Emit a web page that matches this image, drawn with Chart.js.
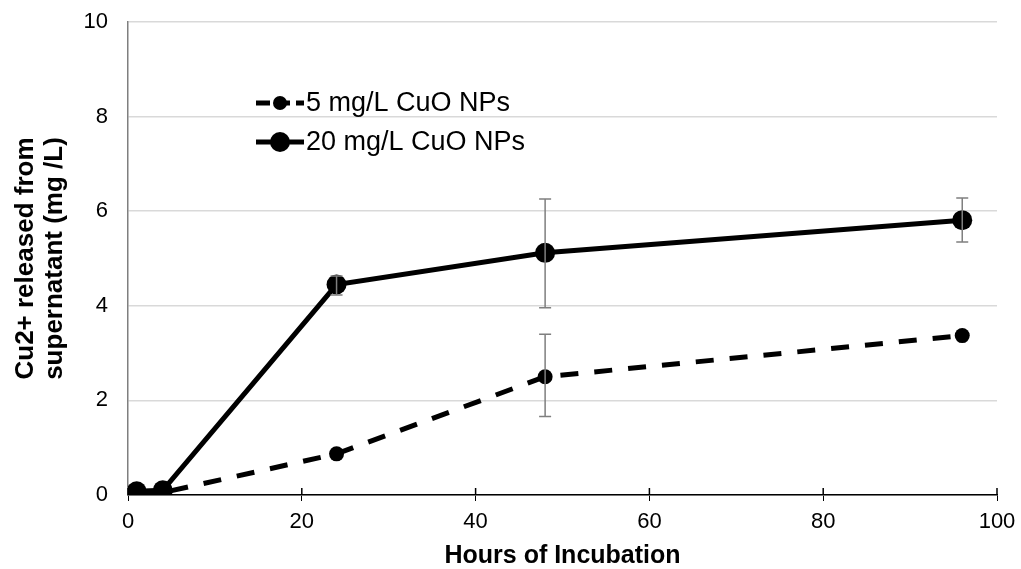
<!DOCTYPE html>
<html>
<head>
<meta charset="utf-8">
<script src="https://cdn.jsdelivr.net/npm/chart.js@4.4.0/dist/chart.umd.min.js"></script>
<style>
  html, body { margin: 0; padding: 0; background: #fff; }
  #wrap { width: 1021px; height: 569px; }
</style>
</head>
<body>
<div id="wrap"><canvas id="c" width="1021" height="569"></canvas></div>
<script>
// Data
const hours = [1, 4, 24, 48, 96];
const low5 = [0.0, 0.05, 0.87, 2.50, 3.37];
const low5ErrHi = [null, null, null, 3.40, null];
const low5ErrLo = [null, null, null, 1.66, null];
const high20 = [0.08, 0.10, 4.45, 5.12, 5.81];
const high20ErrHi = [null, null, 4.63, 6.26, 6.28];
const high20ErrLo = [null, null, 4.23, 3.96, 5.35];
const xTicks = [0, 20, 40, 60, 80, 100];
const seriesNames = ['5 mg/L CuO NPs', '20 mg/L CuO NPs'];

const FONT = '"Liberation Sans", Arial, sans-serif';

// Error bars drawn through the chart scales
const errorBars = {
    id: 'errorBars',
    afterDatasetsDraw(chart) {
        const ctx = chart.ctx;
        const xs = chart.scales.x, ys = chart.scales.y;
        const sets = [[low5ErrHi, low5ErrLo], [high20ErrHi, high20ErrLo]];
        ctx.save();
        ctx.strokeStyle = '#7f7f7f';
        ctx.lineWidth = 1.5;
        sets.forEach(([hi, lo]) => {
            hours.forEach((h, i) => {
                if (hi[i] == null) return;
                const x = xs.getPixelForValue(h);
                const y1 = ys.getPixelForValue(hi[i]);
                const y2 = ys.getPixelForValue(lo[i]);
                ctx.beginPath();
                ctx.moveTo(x, y1); ctx.lineTo(x, y2);
                ctx.moveTo(x - 6, y1); ctx.lineTo(x + 6, y1);
                ctx.moveTo(x - 6, y2); ctx.lineTo(x + 6, y2);
                ctx.stroke();
            });
        });
        ctx.restore();
    }
};

// x tick marks cross the axis line in the original
const crossTicks = {
    id: 'crossTicks',
    afterDraw(chart) {
        const ctx = chart.ctx;
        const xs = chart.scales.x;
        const y0 = chart.chartArea.bottom;
        ctx.save();
        ctx.strokeStyle = '#000';
        ctx.lineWidth = 1.5;
        xTicks.forEach(v => {
            const x = xs.getPixelForValue(v);
            ctx.beginPath();
            ctx.moveTo(x, y0 - 7); ctx.lineTo(x, y0);
            ctx.stroke();
        });
        ctx.restore();
    }
};

// Legend inside plot area, like the original
const insideLegend = {
    id: 'insideLegend',
    afterDraw(chart) {
        const ctx = chart.ctx;
        const items = [
            { y: 103, dash: [14, 6], r: 7, text: seriesNames[0] },
            { y: 142, dash: [], r: 10, text: seriesNames[1] }
        ];
        ctx.save();
        items.forEach(it => {
            ctx.strokeStyle = '#000';
            ctx.lineWidth = 5;
            ctx.setLineDash(it.dash);
            ctx.beginPath();
            ctx.moveTo(256, it.y); ctx.lineTo(304, it.y);
            ctx.stroke();
            ctx.setLineDash([]);
            ctx.fillStyle = '#000';
            ctx.beginPath();
            ctx.arc(280, it.y, it.r, 0, Math.PI * 2);
            ctx.fill();
            ctx.font = '27px ' + FONT;
            ctx.textBaseline = 'middle';
            ctx.fillText(it.text, 306, it.y + 1);
        });
        ctx.restore();
    }
};

new Chart(document.getElementById('c'), {
    type: 'line',
    data: {
        datasets: [
            {
                label: seriesNames[0],
                data: hours.map((h, i) => ({ x: h, y: low5[i] })),
                borderColor: '#000',
                backgroundColor: '#000',
                borderWidth: 5,
                borderDash: [18, 16],
                pointRadius: 7.5,
                pointBorderWidth: 0,
                tension: 0
            },
            {
                label: seriesNames[1],
                data: hours.map((h, i) => ({ x: h, y: high20[i] })),
                borderColor: '#000',
                backgroundColor: '#000',
                borderWidth: 5,
                pointRadius: 10,
                pointBorderWidth: 0,
                tension: 0
            }
        ]
    },
    options: {
        responsive: false,
        animation: false,
        layout: { padding: { left: 8, right: 24, top: 22, bottom: 0 } },
        plugins: {
            legend: { display: false },
            tooltip: { enabled: false }
        },
        scales: {
            x: {
                type: 'linear',
                min: 0, max: 100,
                afterBuildTicks: s => { s.ticks = xTicks.map(v => ({ value: v })); },
                grid: { drawOnChartArea: false, drawTicks: true, tickLength: 6, color: '#000' },
                border: { color: '#000', width: 1.5 },
                ticks: { color: '#000', font: { family: FONT, size: 22 }, padding: 8 },
                title: { display: true, text: 'Hours of Incubation', color: '#000', font: { family: FONT, size: 25, weight: 'bold', lineHeight: 1.0 }, padding: { top: 0, bottom: 0 } },
                afterFit: s => { s.height = 74; s.paddingLeft = 0; s.paddingRight = 0; }
            },
            y: {
                min: 0, max: 10,
                ticks: { stepSize: 2, color: '#000', font: { family: FONT, size: 22 }, padding: 20 },
                grid: { color: '#d9d9d9', lineWidth: 1.5, drawTicks: false },
                border: { color: '#7f7f7f', width: 1.5 },
                title: { display: true, text: ['Cu2+ released from', 'supernatant (mg /L)'], color: '#000', font: { family: FONT, size: 26, weight: 'bold', lineHeight: 1.1 }, padding: { top: 4, bottom: 0 } },
                afterFit: s => { s.width = 120; s.paddingTop = 0; s.paddingBottom = 0; }
            }
        }
    },
    plugins: [errorBars, crossTicks, insideLegend]
});
</script>
</body>
</html>
